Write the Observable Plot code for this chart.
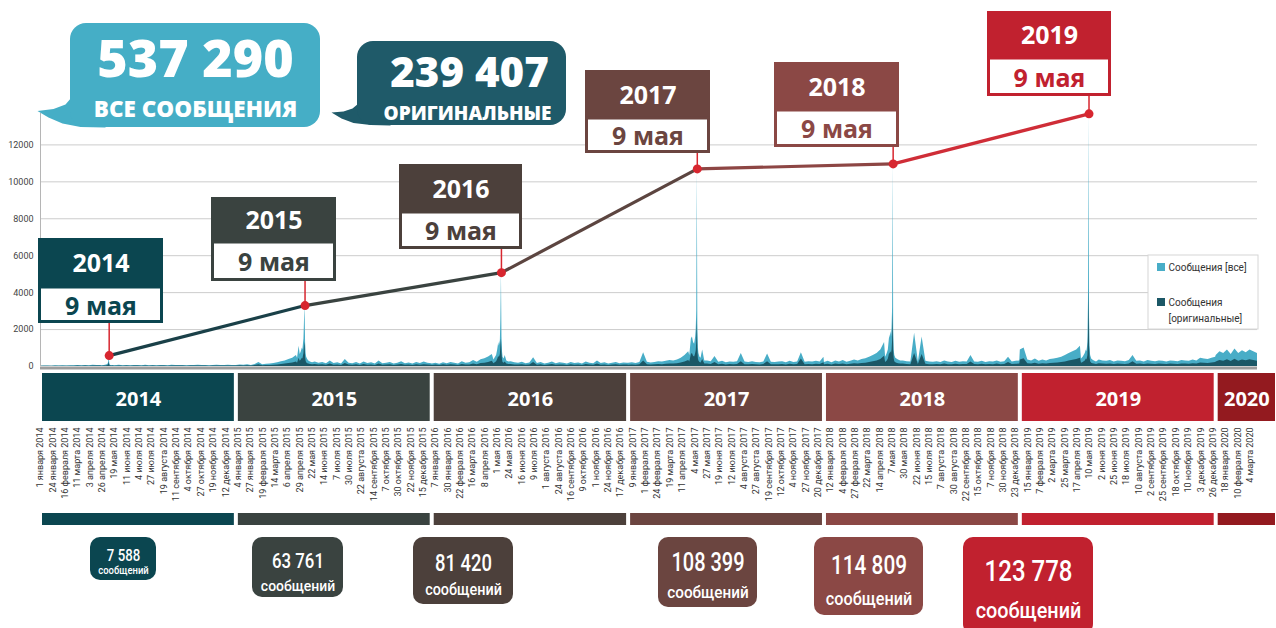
<!DOCTYPE html>
<html><head><meta charset="utf-8">
<script src="https://cdn.jsdelivr.net/npm/d3@7"></script>
<script src="https://cdn.jsdelivr.net/npm/@observablehq/plot@0.6"></script>
<style>
html,body{margin:0;padding:0;background:#fff;}
#wrap{position:relative;width:1276px;height:628px;overflow:hidden;}
#wrap svg{position:absolute;left:0;top:0;}
</style></head><body><div id="wrap"></div>
<script>
// ================= DATA =================
const years = [2014, 2015, 2016, 2017, 2018, 2019, 2020];
const yearTotals = [7588, 63761, 81420, 108399, 114809, 123778]; // 2014..2019
const totalAll = 537290;
const totalOrig = 239407;
const peakDates = ["2014-05-09", "2015-05-09", "2016-05-09", "2017-05-09", "2018-05-09", "2019-05-09"];
const peakValues = [590, 3300, 5080, 10700, 10970, 13680];
const yTicks = [0, 2000, 4000, 6000, 8000, 10000, 12000];
const monthsGen = ["января","февраля","марта","апреля","мая","июня","июля","августа","сентября","октября","ноября","декабря"];
const tickStart = "2014-01-01", tickStepDays = 23;
const seriesStart = "2014-01-01", seriesEnd = "2020-03-18";
const weeklyStepDays = 7;
const legendLabels = ["Сообщения [все]", "Сообщения", "[оригинальные]"];
const bubbleLabels = ["ВСЕ СООБЩЕНИЯ", "ОРИГИНАЛЬНЫЕ"];
const unitLabel = "сообщений";

// weekly values (messages per day), all messages, sampled every 7 days from Jan 1
const all2014 = [20,25,30,20,35,30,40,30,45,35, 50,40,60,45,70,55,60,80,90,60, 50,70,40,55,45,60,50,40,65,45, 55,40,60,50,45,70,55,60,50,45, 60,55,70,50,60,45,55,65,50,60, 70,55,60];
const all2015 = [60,80,70,90,60,110,220,90,120,140, 160,200,260,300,380,450,600,900,1500,500, 300,250,180,220,150,300,160,200,140,380, 170,150,220,130,250,160,200,140,300,150, 180,220,130,170,260,150,190,140,210,160, 240,180,150];
const all2016 = [140,170,120,200,150,220,170,140,260,180, 200,320,230,360,420,520,650,900,1500,600, 300,260,200,170,230,150,190,480,160,210, 140,180,250,150,200,170,130,220,160,190, 140,240,170,150,300,160,200,140,180,220, 150,190,170];
const all2017 = [170,200,160,220,750,230,190,210,260,240, 280,320,300,350,450,600,800,1200,2000,700, 850,300,260,540,230,280,200,250,230,260, 700,240,210,260,220,200,250,680,230,210, 240,260,200,280,220,250,750,230,260,240, 280,250,500];
const all2018 = [220,280,200,300,250,320,230,280,350,300, 380,420,500,600,700,900,1300,1700,2000,800, 400,300,260,240,1800,250,1600,280,240,230, 260,220,300,240,210,280,230,260,250,600, 250,230,280,220,260,240,300,230,260,500, 250,280,300];
const all2019 = [900,1000,350,300,400,280,350,300,380,400, 450,500,600,700,800,900,1100,1300,1800,900, 500,350,300,280,320,250,300,280,260,320, 600,280,300,250,320,280,260,300,280,250, 300,280,260,320,300,280,350,300,450,400, 380,450,500];
const all2020 = [600,800,700,900,650,950,700,850,750,900,800,700];

// weekly values, original messages
const orig2014 = [10,12,15,10,15,12,18,14,20,15, 22,18,25,20,30,24,26,35,40,26, 22,30,18,24,20,26,22,18,28,20, 24,18,26,22,20,30,24,26,22,20, 26,24,30,22,26,20,24,28,22,26, 30,24,26];
const orig2015 = [25,35,30,40,25,50,90,40,55,60, 70,85,110,130,160,190,250,380,600,210, 130,110,80,95,65,130,70,85,60,160, 75,65,95,55,110,70,85,60,130,65, 80,95,55,75,110,65,85,60,90,70, 100,80,65];
const orig2016 = [60,75,50,90,65,95,75,60,110,80, 85,140,100,160,180,220,280,380,600,260, 130,110,85,75,100,65,85,210,70,90, 60,80,110,65,85,75,55,95,70,85, 60,105,75,65,130,70,85,60,80,95, 65,85,75];
const orig2017 = [70,85,65,95,300,100,80,90,110,100, 120,140,130,150,190,250,330,500,800,300, 320,130,110,220,100,120,85,105,100,110, 260,100,90,110,95,85,105,260,100,90, 100,110,85,120,95,105,400,100,110,100, 120,105,200];
const orig2018 = [95,120,85,130,110,140,100,120,150,130, 165,180,220,260,300,380,550,700,850,350, 170,130,110,100,700,105,650,120,100,95, 110,95,130,100,90,120,95,110,105,250, 105,95,120,90,110,100,130,95,110,210, 105,120,130];
const orig2019 = [350,420,150,130,170,120,150,130,160,170, 190,210,250,300,340,380,450,550,800,400, 220,150,130,120,140,110,130,120,110,140, 260,120,130,110,140,120,110,130,120,110, 130,120,110,140,130,120,150,130,190,170, 160,190,210];
const orig2020 = [250,330,290,370,270,390,290,350,310,370,330,290];

// daily detail around each 9 May (offsets in days from 9 May)
const peakOffsets = [-14,-11,-9,-7,-5,-4,-3,-2,-1,0,1,2,3,5,7,10,14];
const allPeak2014 = [40,50,60,70,80,90,100,130,220,590,160,80,60,50,60,45,55];
const allPeak2015 = [450,1100,650,800,1000,900,1200,1500,2500,3300,1300,700,500,380,300,250,200];
const allPeak2016 = [350,500,600,900,1300,1100,1250,1400,2600,5080,1600,800,500,400,600,300,250];
const allPeak2017 = [600,1500,1600,1300,1200,1400,1600,2000,3000,10700,2300,1000,700,500,450,900,300];
const allPeak2018 = [500,700,900,1500,1700,1900,1600,2100,3200,10970,2000,900,600,450,400,350,300];
const allPeak2019 = [400,500,600,700,900,800,1000,1300,3500,13680,2600,1100,600,400,350,300,250];
const origPeak2014 = [15,20,25,30,30,35,40,50,90,250,60,30,25,20,25,20,20];
const origPeak2015 = [180,450,280,350,450,400,550,700,1100,1300,500,280,200,150,130,110,90];
const origPeak2016 = [150,220,260,380,550,480,550,650,1100,1500,700,350,220,170,250,130,110];
const origPeak2017 = [250,650,700,560,520,600,700,850,1300,2600,950,420,300,210,190,380,130];
const origPeak2018 = [220,300,400,650,750,800,700,900,1400,2900,850,400,260,200,180,150,130];
const origPeak2019 = [170,220,260,300,400,350,450,600,1600,4200,1100,480,260,180,150,130,110];

// ================= STYLE / LAYOUT =================
const yearColors = ["#0b4650", "#3a4340", "#4c403b", "#6b4540", "#8b4845", "#c1212f", "#931a1f"];
const segColors = ["#1a4048", "#3a4340", "#5c4540", "#8d4644", "#cf2d37"];
const allFill = "#48adc7", origFill = "#1b5766", red = "#d7262f";
const fMain = "'Open Sans', 'Noto Sans', sans-serif";
const fNarrow = "Roboto, 'Noto Sans', sans-serif";
const fTick = "Roboto, 'Noto Sans', sans-serif";
const calloutLayout = [
  {x1:38, x2:163, top:238, mid:287, bot:323},
  {x1:211, x2:336, top:197, mid:242, bot:281},
  {x1:399, x2:522, top:164, mid:212, bot:249},
  {x1:585, x2:710, top:70, mid:118, bot:153},
  {x1:774, x2:899, top:62, mid:110, bot:147},
  {x1:987, x2:1111, top:11, mid:58, bot:96}
];
const totalBoxLayout = [
  {x1:90, x2:156, y1:537, y2:580, nf:16.5, nb:560, sf:10.5, sb:573},
  {x1:252, x2:343, y1:537, y2:597, nf:21, nb:567, sf:15.5, sb:590},
  {x1:413, x2:513, y1:537, y2:604, nf:23, nb:570, sf:16, sb:594},
  {x1:658, x2:757, y1:537, y2:607, nf:25, nb:570, sf:17, sb:597},
  {x1:814, x2:923, y1:537, y2:615, nf:26, nb:573, sf:18, sb:604},
  {x1:963, x2:1093, y1:537, y2:634, nf:30, nb:580, sf:22, sb:617}
];
const numSquash = 0.8, unitSquash = 0.9;

// ================= BUILD =================
const DAY = 864e5;
const endDate = new Date(seriesEnd);
const peakD = peakDates.map(s => new Date(s));
function buildSeries(weekly, peaks) {
  const pts = [];
  weekly.forEach((arr, k) => {
    const y = years[k];
    const ys0 = new Date(Date.UTC(y, 0, 1)), ys1 = new Date(Date.UTC(y + 1, 0, 1));
    const pk = k < peakD.length ? peakD[k] : null;
    arr.forEach((v, i) => {
      const d = d3.utcDay.offset(ys0, weeklyStepDays * i);
      if (d >= ys1 || d > endDate) return;
      if (pk && Math.abs(d - pk) <= 15 * DAY) return;
      pts.push({date: d, value: v});
    });
    if (pk) peaks[k].forEach((v, j) => pts.push({date: d3.utcDay.offset(pk, peakOffsets[j]), value: v}));
  });
  return pts.sort((a, b) => a.date - b.date);
}
const allSeries = buildSeries([all2014, all2015, all2016, all2017, all2018, all2019, all2020],
  [allPeak2014, allPeak2015, allPeak2016, allPeak2017, allPeak2018, allPeak2019]);
const origSeries = buildSeries([orig2014, orig2015, orig2016, orig2017, orig2018, orig2019, orig2020],
  [origPeak2014, origPeak2015, origPeak2016, origPeak2017, origPeak2018, origPeak2019]);

const tickDates = [];
for (let d = new Date(tickStart); d <= endDate; d = d3.utcDay.offset(d, tickStepDays)) tickDates.push(d);
const fmtDate = d => `${d.getUTCDate()} ${monthsGen[d.getUTCMonth()]} ${d.getUTCFullYear()}`;
const fmtDay = d => `${d.getUTCDate()} ${monthsGen[d.getUTCMonth()]}`;
const fmtNum = n => String(n).replace(/\B(?=(\d{3})+(?!\d))/g, " ");

const peaks = peakD.map((d, i) => ({date: d, value: peakValues[i], year: d.getUTCFullYear(), i}));
const segs = peaks.slice(0, -1).map((p, i) => ({x1: p.date, y1: p.value, x2: peaks[i + 1].date, y2: peaks[i + 1].value, color: segColors[i]}));

const xDom = [new Date(seriesStart), endDate];
const mk = () => ({
  width: 1276, height: 628, marginLeft: 40, marginRight: 19, marginTop: 113, marginBottom: 262,
  x: {type: "utc", domain: xDom, range: [40, 1257], axis: null},
  y: {type: "linear", domain: [0, 13700], range: [366, 113], axis: null}
});

const A = Plot.plot({
  ...mk(),
  style: "background:white;font-family:Roboto,sans-serif;",
  marks: [
    Plot.ruleY(yTicks.filter(v => v > 0), {y: d => d, stroke: "#cccccc", strokeWidth: 1}),
    Plot.areaY(allSeries, {x: "date", y: "value", fill: allFill, curve: "linear"}),
    Plot.areaY(origSeries, {x: "date", y: "value", fill: origFill, curve: "linear"}),
    Plot.ruleX([xDom[0]], {x: d => d, y1: () => 0, y2: () => 13700, stroke: "#b5b5b5", strokeWidth: 1}),
    Plot.ruleY([0], {y: d => d, stroke: "#9d9d9d", strokeWidth: 3, dy: 1.5}),
    Plot.text(yTicks, {y: d => d, frameAnchor: "left", dx: -7, textAnchor: "end", text: d => String(d), fontSize: 9, fill: "#444", fontFamily: fTick}),
    Plot.text(tickDates, {x: d => d, frameAnchor: "bottom", dy: 61, rotate: -90, textAnchor: "end", lineAnchor: "middle", text: fmtDate, fontSize: 9, fill: "#333", fontFamily: fTick})
  ]
});

const sx = A.scale("x"), sy = A.scale("y");
const X = v => sx.apply(v), Y = v => sy.apply(v);
const bandX1 = y => X(new Date(Date.UTC(y, 0, 1))) + 2;
const bandX2 = y => Math.min(X(new Date(Date.UTC(y + 1, 0, 1))) - 2, 1275);
const yi = years.map((y, i) => ({y, i}));
const tot = yearTotals.map((v, i) => ({v, i, ...totalBoxLayout[i]}));
const co = peaks.map((p, i) => ({...p, ...calloutLayout[i]}));

const tail1 = [[74,86],[71,97],[65,104],[53,108.5],[37,110.5],[48,117],[62,123],[80,126.5],[105,127],[105,86]];
const tail2 = [[361,94],[358,103],[352,108],[343,111],[331,112],[341,118],[353,122.5],[370,124.5],[390,125],[390,94]];

const B = Plot.plot({
  width: 1276, height: 628, margin: 0,
  x: {type: "identity", axis: null}, y: {type: "identity", axis: null},
  color: {type: "identity"},
  style: "background:transparent;",
  marks: [
    // year bands
    Plot.rect(yi, {x1: d => bandX1(d.y), x2: d => bandX2(d.y), y1: () => 373, y2: () => 421, fill: d => yearColors[d.i]}),
    Plot.text(yi, {x: d => (bandX1(d.y) + bandX2(d.y)) / 2, y: () => 405, text: d => String(d.y), fill: "white", fontSize: 20, fontWeight: 700, fontFamily: fMain, lineAnchor: "bottom"}),
    Plot.rect(yi, {x1: d => bandX1(d.y), x2: d => bandX2(d.y), y1: () => 513, y2: () => 525, fill: d => yearColors[d.i]}),
    // totals boxes
    Plot.rect(tot, {x1: "x1", x2: "x2", y1: "y1", y2: "y2", rx: 10, fill: d => yearColors[d.i]}),
    Plot.text(tot, {x: d => (d.x1 + d.x2) / 2, y: "nb", text: d => fmtNum(d.v), fontSize: d => d.nf, fill: "white", fontFamily: fNarrow, fontWeight: 500, lineAnchor: "bottom"}),
    Plot.text(tot, {x: d => (d.x1 + d.x2) / 2, y: "sb", text: () => unitLabel, fontSize: d => d.sf, fill: "white", fontFamily: fNarrow, fontWeight: 500, lineAnchor: "bottom"}),
    // bubbles
    Plot.line(tail1, {x: d => d[0], y: d => d[1], fill: "#45aec6", stroke: "none"}),
    Plot.rect([0], {x1: () => 70, x2: () => 320, y1: () => 23, y2: () => 127, rx: 16, fill: "#45aec6"}),
    Plot.line(tail2, {x: d => d[0], y: d => d[1], fill: "#1f5a69", stroke: "none"}),
    Plot.rect([0], {x1: () => 357, x2: () => 566, y1: () => 41, y2: () => 125, rx: 16, fill: "#1f5a69"}),
    Plot.text([fmtNum(totalAll)], {x: () => 195, y: () => 76, text: d => d, fill: "white", fontSize: 52, fontWeight: 800, fontFamily: fMain, lineAnchor: "bottom"}),
    Plot.text([bubbleLabels[0]], {x: () => 195, y: () => 116.5, text: d => d, fill: "white", fontSize: 22.5, fontWeight: 800, fontFamily: fMain, lineAnchor: "bottom"}),
    Plot.text([fmtNum(totalOrig)], {x: () => 469, y: () => 86, text: d => d, fill: "white", fontSize: 42, fontWeight: 800, fontFamily: fMain, lineAnchor: "bottom"}),
    Plot.text([bubbleLabels[1]], {x: () => 467, y: () => 119, text: d => d, fill: "white", fontSize: 19, fontWeight: 800, fontFamily: fMain, lineAnchor: "bottom"}),
    // legend
    Plot.rect([0], {x1: () => 1148, x2: () => 1258, y1: () => 255, y2: () => 329, fill: "white", stroke: "#d6d6d6"}),
    Plot.rect([0], {x1: () => 1157, x2: () => 1165, y1: () => 263, y2: () => 271, fill: allFill}),
    Plot.rect([0], {x1: () => 1157, x2: () => 1165, y1: () => 298, y2: () => 306, fill: origFill}),
    Plot.text(legendLabels, {x: () => 1168, y: (d, i) => [267, 302, 318][i], text: d => d, textAnchor: "start", fontSize: 10, fill: "#333", fontFamily: fTick}),
    // callouts
    Plot.rect(co, {x1: "x1", x2: "x2", y1: "top", y2: "mid", fill: d => yearColors[d.i]}),
    Plot.rect(co, {x1: d => d.x1 + 1.5, x2: d => d.x2 - 1.5, y1: "mid", y2: d => d.bot - 1.5, fill: "white", stroke: d => yearColors[d.i], strokeWidth: 3}),
    Plot.text(co, {x: d => (d.x1 + d.x2) / 2, y: d => (d.top + d.mid) / 2 + 9, text: d => String(d.year), fill: "white", fontSize: 25, fontWeight: 700, fontFamily: fMain, lineAnchor: "bottom"}),
    Plot.text(co, {x: d => (d.x1 + d.x2) / 2, y: d => (d.mid + d.bot) / 2 + 9, text: d => fmtDay(d.date), fill: d => yearColors[d.i], fontSize: 25, fontWeight: 700, fontFamily: fMain, lineAnchor: "bottom"}),
    // stems
    Plot.ruleX(co, {x: d => X(d.date), y1: "bot", y2: d => Y(d.value), stroke: red, strokeWidth: 1.5})
  ]
});

const C = Plot.plot({
  ...mk(),
  color: {type: "identity"},
  style: "background:transparent;",
  marks: [
    Plot.link(segs, {x1: "x1", y1: "y1", x2: "x2", y2: "y2", stroke: "color", strokeWidth: 3.2}),
    Plot.dot(peaks, {x: "date", y: "value", r: 4.5, fill: red})
  ]
});

const wrap = document.getElementById("wrap");
wrap.append(A, B, C);

// condense the total-box texts (the original uses a narrow face)
const numSet = new Set(yearTotals.map(fmtNum));
d3.select(B).selectAll("text").each(function () {
  const t = this.textContent;
  const f = numSet.has(t) ? numSquash : t === unitLabel ? unitSquash : 0;
  if (f) {
    const w = this.getComputedTextLength();
    this.setAttribute("textLength", (w * f).toFixed(1));
    this.setAttribute("lengthAdjust", "spacingAndGlyphs");
  }
});
</script></body></html>
